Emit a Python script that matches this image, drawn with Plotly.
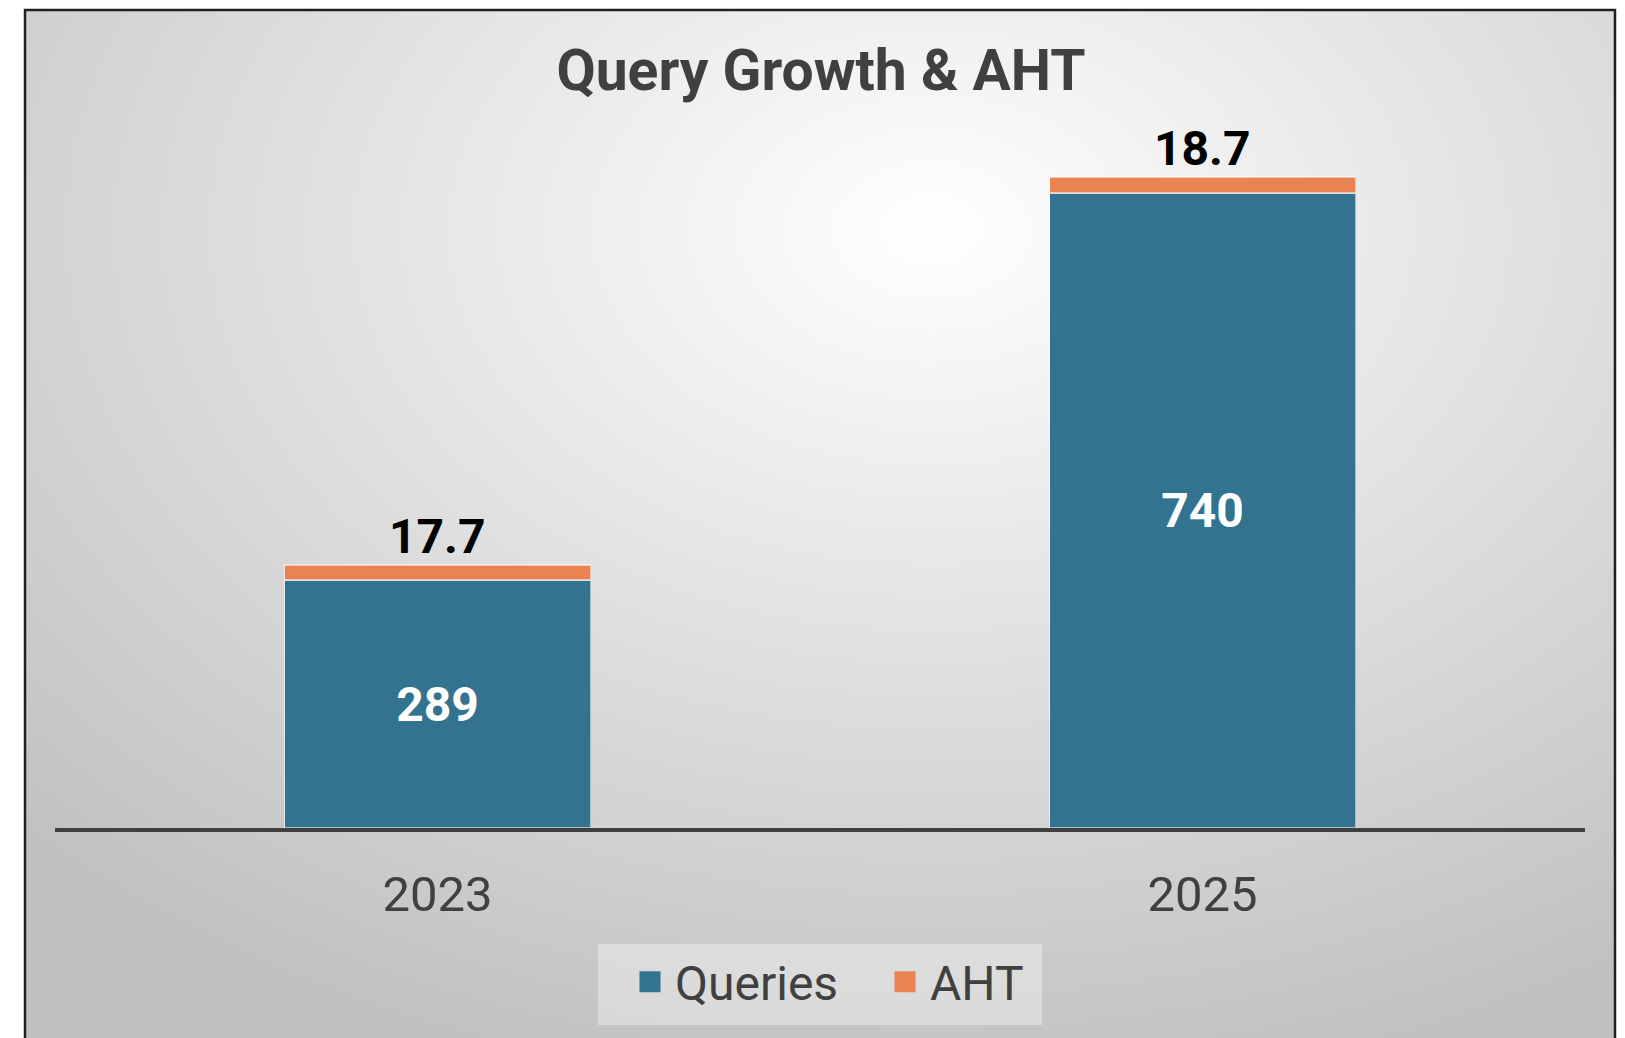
import base64
import plotly.graph_objects as go

# ---- data ----
years = ["2023", "2025"]
queries = [289, 740]
aht = [17.7, 18.7]
series_names = ["Queries", "AHT"]
chart_title = "Query Growth & AHT"

W, H = 1625, 1038
OFF = 8  # page body margin
TEAL = "#33738F"
ORANGE = "#E9834F"
TXT = "#404040"
colors = [TEAL, ORANGE]

def px_x(p):
    return (p - OFF) / W

def px_y(p):
    return 1 - (p - OFF) / H

# radial gradient background as svg
svg = """<svg xmlns='http://www.w3.org/2000/svg' width='1590' height='1100' viewBox='0 0 1590 1100' preserveAspectRatio='none'>
<defs><radialGradient id='g' cx='0.57' cy='0.2' r='0.8' fx='0.57' fy='0.2'>
<stop offset='0' stop-color='#ffffff'/><stop offset='1' stop-color='#c0c0c0'/></radialGradient></defs>
<rect x='0' y='0' width='1590' height='1100' fill='url(#g)'/></svg>"""
src = "data:image/svg+xml;base64," + base64.b64encode(svg.encode()).decode()

fig = go.Figure()
fig.add_trace(go.Bar(
    x=years, y=queries, name=series_names[0], showlegend=False,
    marker=dict(color=colors[0], line=dict(color="rgba(255,255,255,0.55)", width=1.5)),
    text=[str(v) for v in queries], textposition="inside", insidetextanchor="middle",
    textangle=0, textfont=dict(family="Roboto", size=48, color="white"),
    texttemplate="<b>%{text}</b>",
))
fig.add_trace(go.Bar(
    x=years, y=aht, name=series_names[1], showlegend=False,
    marker=dict(color=colors[1], line=dict(color="rgba(255,255,255,0.55)", width=1.5)),
))
# legend entries (larger swatches than bar legend icons allow)
for nm, c in zip(series_names, colors):
    fig.add_trace(go.Scatter(
        x=[None], y=[None], mode="markers", name=nm, showlegend=True,
        marker=dict(symbol="square", size=16, color=c, line=dict(color=c, width=5)),
    ))

for i, (q, a) in enumerate(zip(queries, aht)):
    fig.add_annotation(x=i, y=q + a, xref="x", yref="y", text=f"<b>{a}</b>", showarrow=False,
                       yanchor="bottom", yshift=-2,
                       font=dict(family="Roboto", size=48, color="black"))

fig.update_layout(
    width=W, height=H, autosize=False,
    margin=dict(l=0, r=0, t=0, b=0, autoexpand=False),
    paper_bgcolor="white", plot_bgcolor="rgba(0,0,0,0)",
    barmode="stack", bargap=0.6,
    title=dict(text=f"<b>{chart_title}</b>", x=px_x(821), xanchor="center", y=px_y(70), yanchor="middle",
               font=dict(family="Roboto", size=57, color=TXT)),
    xaxis=dict(type="category", categoryorder="array", categoryarray=years, range=[-0.5, 1.5],
               domain=[px_x(55), px_x(1585)], showline=True, linecolor=TXT, linewidth=4,
               ticks="outside", ticklen=20, tickcolor="rgba(0,0,0,0)", showgrid=False,
               tickfont=dict(family="Roboto", size=49, color=TXT), automargin=False),
    yaxis=dict(domain=[px_y(828), px_y(OFF)], range=[0, 965 * (828 - OFF) / 828], visible=False,
               showgrid=False, automargin=False),
    legend=dict(orientation="h", x=px_x(625), xanchor="left", y=px_y(944), yanchor="top",
                bgcolor="rgba(0,0,0,0)", font=dict(family="Roboto", size=48, color=TXT),
                traceorder="normal", entrywidth=200, itemwidth=40),
    showlegend=True,
    images=[dict(source=src, xref="paper", yref="paper", x=px_x(25), y=px_y(10),
                 sizex=1590 / W, sizey=1100 / H, xanchor="left", yanchor="top",
                 sizing="stretch", layer="below")],
    shapes=[
        dict(type="rect", xref="paper", yref="paper", x0=px_x(25), x1=px_x(1615),
             y0=-0.1, y1=px_y(10), line=dict(color="#202020", width=2.5), layer="above"),
        dict(type="rect", xref="paper", yref="paper", x0=px_x(598), x1=px_x(1042),
             y0=px_y(1025), y1=px_y(944), line=dict(width=0),
             fillcolor="rgba(255,255,255,0.35)", layer="below"),
    ],
)

fig.write_html("out.html")
